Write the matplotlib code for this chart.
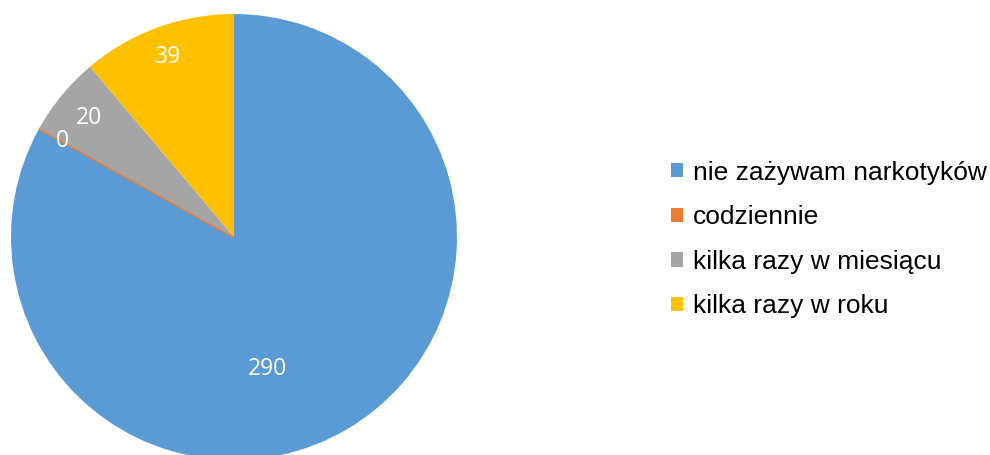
import numpy as np
import matplotlib
matplotlib.use("Agg")
import matplotlib.pyplot as plt
from matplotlib.patches import Patch

# Data
categories = ["nie zażywam narkotyków", "codziennie", "kilka razy w miesiącu", "kilka razy w roku"]
counts = [290, 0, 20, 39]
colors = ["#5B9BD5", "#ED7D31", "#A5A5A5", "#FFC000"]

# label placement (radius fraction, angle shift in degrees) - mimics Excel best fit
label_radius = [0.61, 0.88, 0.84, 0.86]
label_shift = [-16, 0, 0, 0]

fig = plt.figure(figsize=(9.9, 4.55), dpi=100)
ax = fig.add_axes([11 / 990, (218 - 223) / 455, 446 / 990, 446 / 455])

wedges, _ = ax.pie(counts, colors=colors, startangle=90, counterclock=False,
                   radius=1.0, wedgeprops=dict(linewidth=0))
# zero slice shows up as a thin line in the original
wedges[1].set_edgecolor(colors[1])
wedges[1].set_linewidth(2.2)

ax.set_xlim(-1, 1)
ax.set_ylim(-1, 1)
ax.set_aspect("equal")

for w, val, r, s in zip(wedges, counts, label_radius, label_shift):
    ang = np.deg2rad((w.theta1 + w.theta2) / 2 + s)
    ax.text(r * np.cos(ang), r * np.sin(ang), f"{val:.0f}", color="white",
            fontsize=16.5, family="Open Sans", ha="center", va="center")

handles = [Patch(facecolor=c, edgecolor="none") for c in colors]
fig.legend(handles, categories, loc="center left", bbox_to_anchor=(671 / 990, 1 - 239.5 / 455),
           frameon=False, prop=dict(family="Liberation Sans", size=19),
           handlelength=0.46, handleheight=0.46, handletextpad=0.36, labelspacing=0.78,
           borderpad=0, borderaxespad=0)

fig.savefig("out.png", dpi=100)
